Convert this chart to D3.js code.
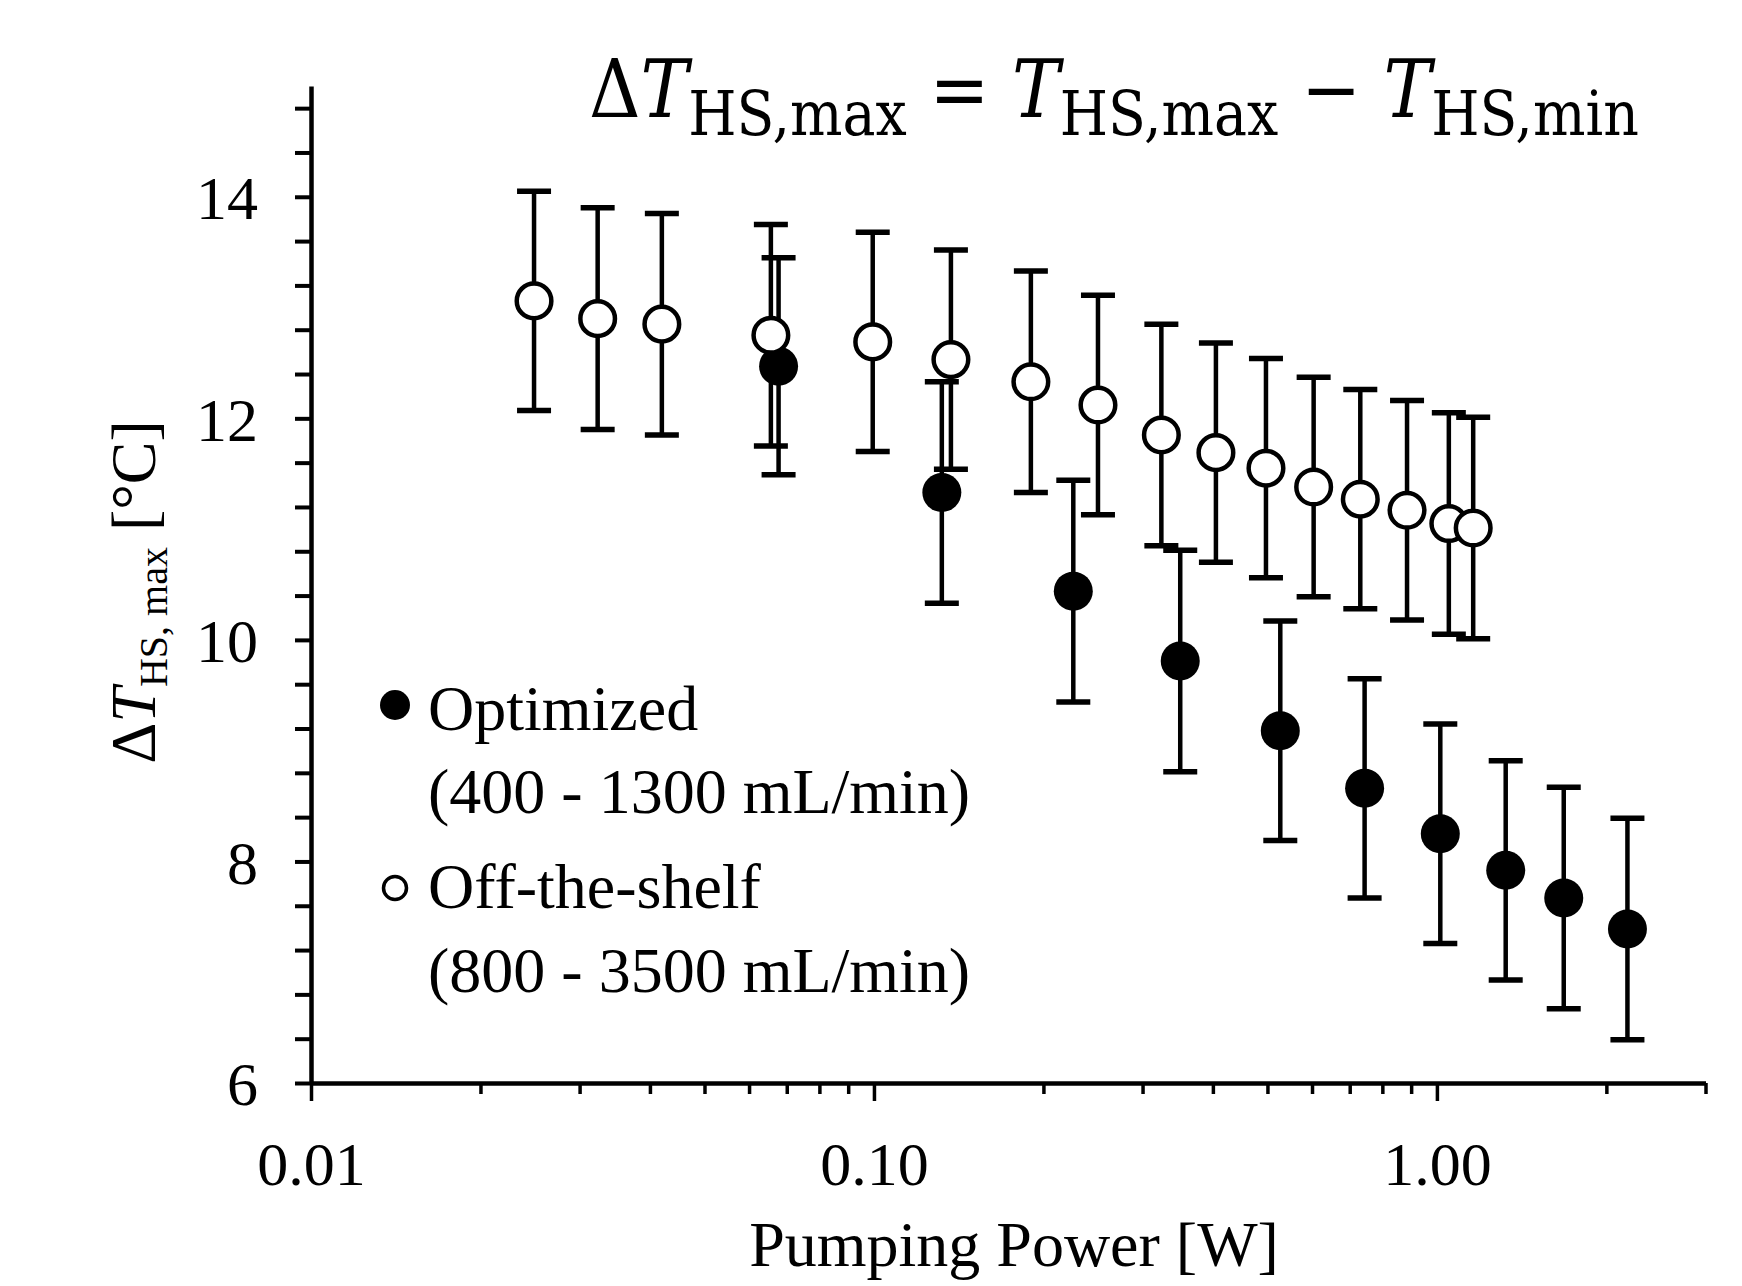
<!DOCTYPE html>
<html><head><meta charset="utf-8">
<script src="https://cdn.jsdelivr.net/npm/d3@7"></script>
<style>body{margin:0;background:#fff}</style>
</head><body>
<svg id="c" width="1742" height="1286" xmlns="http://www.w3.org/2000/svg"></svg>
<script>
// ---- data ----
const optX   = [0.0677, 0.132, 0.226, 0.350, 0.527, 0.744, 1.014, 1.325, 1.68, 2.18];
const optY   = [12.47, 11.33, 10.44, 9.81, 9.18, 8.66, 8.25, 7.92, 7.67, 7.39];
const optErr = [0.98, 1.00, 1.00, 1.00, 0.99, 0.99, 0.99, 0.99, 1.00, 1.00];

const offX   = [0.0249, 0.0323, 0.042, 0.0656, 0.0995, 0.137, 0.190, 0.250, 0.324, 0.405, 0.497, 0.604, 0.731, 0.885, 1.05, 1.16];
const offY   = [13.06, 12.90, 12.85, 12.75, 12.69, 12.53, 12.33, 12.12, 11.85, 11.69, 11.55, 11.38, 11.27, 11.17, 11.05, 11.01];
const offErr = [0.99, 1.00, 1.00, 1.00, 0.99, 0.99, 1.00, 0.99, 1.00, 0.99, 0.99, 0.99, 0.99, 0.99, 1.00, 1.00];

const xMajorTicks = [0.01, 0.1, 1];
const xMinorTicks = [0.02,0.03,0.04,0.05,0.06,0.07,0.08,0.09,0.2,0.3,0.4,0.5,0.6,0.7,0.8,0.9,2,3];
const yTickValues = [6,6.4,6.8,7.2,7.6,8,8.4,8.8,9.2,9.6,10,10.4,10.8,11.2,11.6,12,12.4,12.8,13.2,13.6,14,14.4,14.8];
const yLabelValues = [6,8,10,12,14];
const legendLines = [["Optimized","(400 - 1300 mL/min)"],["Off-the-shelf","(800 - 3500 mL/min)"]];
const xTitle = "Pumping Power [W]";

// ---- drawing ----
const SERIF = "'Liberation Serif','Times New Roman',serif";
const svg = d3.select("#c");
const x = d3.scaleLog().domain([0.01, 3]).range([311, 1705.5]);
const y = d3.scaleLinear().domain([6, 15]).range([1083, 86]);

// y axis
const gy = svg.append("g").attr("transform", `translate(${x(0.01)},0)`)
  .call(d3.axisLeft(y).tickValues(yTickValues).tickSize(16).tickSizeOuter(0)
    .tickFormat(d => yLabelValues.some(v => Math.abs(v - d) < 1e-9) ? d3.format("d")(d) : ""));
gy.select(".domain").attr("stroke", "#000").attr("stroke-width", 4.5);
gy.selectAll(".tick line").attr("stroke", "#000").attr("stroke-width", 4);
gy.selectAll(".tick text").attr("x", -53).attr("dy", "0.35em")
  .attr("font-family", SERIF).attr("font-size", 62).attr("fill", "#000");

// x axis (major + minor)
const gxMin = svg.append("g").attr("transform", `translate(0,${y(6)})`)
  .call(d3.axisBottom(x).tickValues(xMinorTicks).tickSize(11).tickSizeOuter(0).tickFormat(""));
gxMin.select(".domain").remove();
gxMin.selectAll(".tick line").attr("stroke", "#000").attr("stroke-width", 3.5);

const gx = svg.append("g").attr("transform", `translate(0,${y(6)})`)
  .call(d3.axisBottom(x).tickValues(xMajorTicks).tickSize(18).tickSizeOuter(0).tickFormat(d3.format(".2f")));
gx.select(".domain").attr("stroke", "#000").attr("stroke-width", 4.5);
gx.selectAll(".tick line").attr("stroke", "#000").attr("stroke-width", 3.5);
gx.selectAll(".tick text").attr("y", 102).attr("dy", 0)
  .attr("font-family", SERIF).attr("font-size", 62).attr("fill", "#000");

// x title
svg.append("text").attr("x", 1014).attr("y", 1266).attr("text-anchor", "middle")
  .attr("font-family", SERIF).attr("font-size", 64).text(xTitle);

// y title (rotated)
const yt = svg.append("text").attr("transform", "translate(155,592) rotate(-90)")
  .attr("text-anchor", "middle").attr("font-family", SERIF).attr("font-size", 64);
yt.append("tspan").text("\u0394");
yt.append("tspan").attr("font-style", "italic").text("T");
yt.append("tspan").attr("font-size", 40).attr("dy", 12).text("HS, max");
yt.append("tspan").attr("dy", -12).text(" [\u00B0C]");

// error bars + markers
function drawSeries(xs, ys, es, filled) {
  const data = xs.map((v, i) => ({x: v, y: ys[i], e: es[i]}));
  const g = svg.append("g");
  const eb = g.selectAll("g.eb").data(data).join("g").attr("class", "eb");
  eb.append("line").attr("x1", d => x(d.x)).attr("x2", d => x(d.x))
    .attr("y1", d => y(d.y - d.e)).attr("y2", d => y(d.y + d.e))
    .attr("stroke", "#000").attr("stroke-width", 4.5);
  [1, -1].forEach(s => {
    eb.append("line").attr("x1", d => x(d.x) - 17).attr("x2", d => x(d.x) + 17)
      .attr("y1", d => y(d.y + s * d.e)).attr("y2", d => y(d.y + s * d.e))
      .attr("stroke", "#000").attr("stroke-width", 5.5);
  });
  g.selectAll("circle").data(data).join("circle")
    .attr("cx", d => x(d.x)).attr("cy", d => y(d.y))
    .attr("r", filled ? 19.5 : 17.3)
    .attr("fill", filled ? "#000" : "#fff")
    .attr("stroke", "#000").attr("stroke-width", filled ? 0 : 4.5);
}
drawSeries(optX, optY, optErr, true);
drawSeries(offX, offY, offErr, false);

// legend
const lg = svg.append("g");
lg.append("circle").attr("cx", 395).attr("cy", 705).attr("r", 15).attr("fill", "#000");
lg.append("circle").attr("cx", 395).attr("cy", 888).attr("r", 11.5).attr("fill", "#fff")
  .attr("stroke", "#000").attr("stroke-width", 3.5);
[[730, 813], [908, 992]].forEach((bs, i) => {
  legendLines[i].forEach((t, j) => {
    lg.append("text").attr("x", 428).attr("y", bs[j]).attr("font-family", SERIF)
      .attr("font-size", 64).text(t);
  });
});

// title equation
const TF = "'DejaVu Serif','Liberation Serif',serif";
const tt = svg.append("text").attr("x", 0).attr("y", 0).attr("font-family", TF).attr("font-size", 80);
function sub(s){ tt.append("tspan").attr("font-size", 62).attr("dy", 18).text(s); }
function main(s){ tt.append("tspan").attr("dy", -18).text(s); }
tt.append("tspan").text("\u0394");
tt.append("tspan").attr("font-style", "italic").text("T");
sub("HS,max");
main(" = ");
tt.append("tspan").attr("font-style", "italic").text("T");
sub("HS,max");
main(" \u2212 ");
tt.append("tspan").attr("font-style", "italic").text("T");
sub("HS,min");
const bb = tt.node().getBBox();
const sx = (1639 - 589) / bb.width;
tt.attr("transform", `translate(${589 - bb.x * sx},117) scale(${sx},1)`);
</script>
</body></html>
